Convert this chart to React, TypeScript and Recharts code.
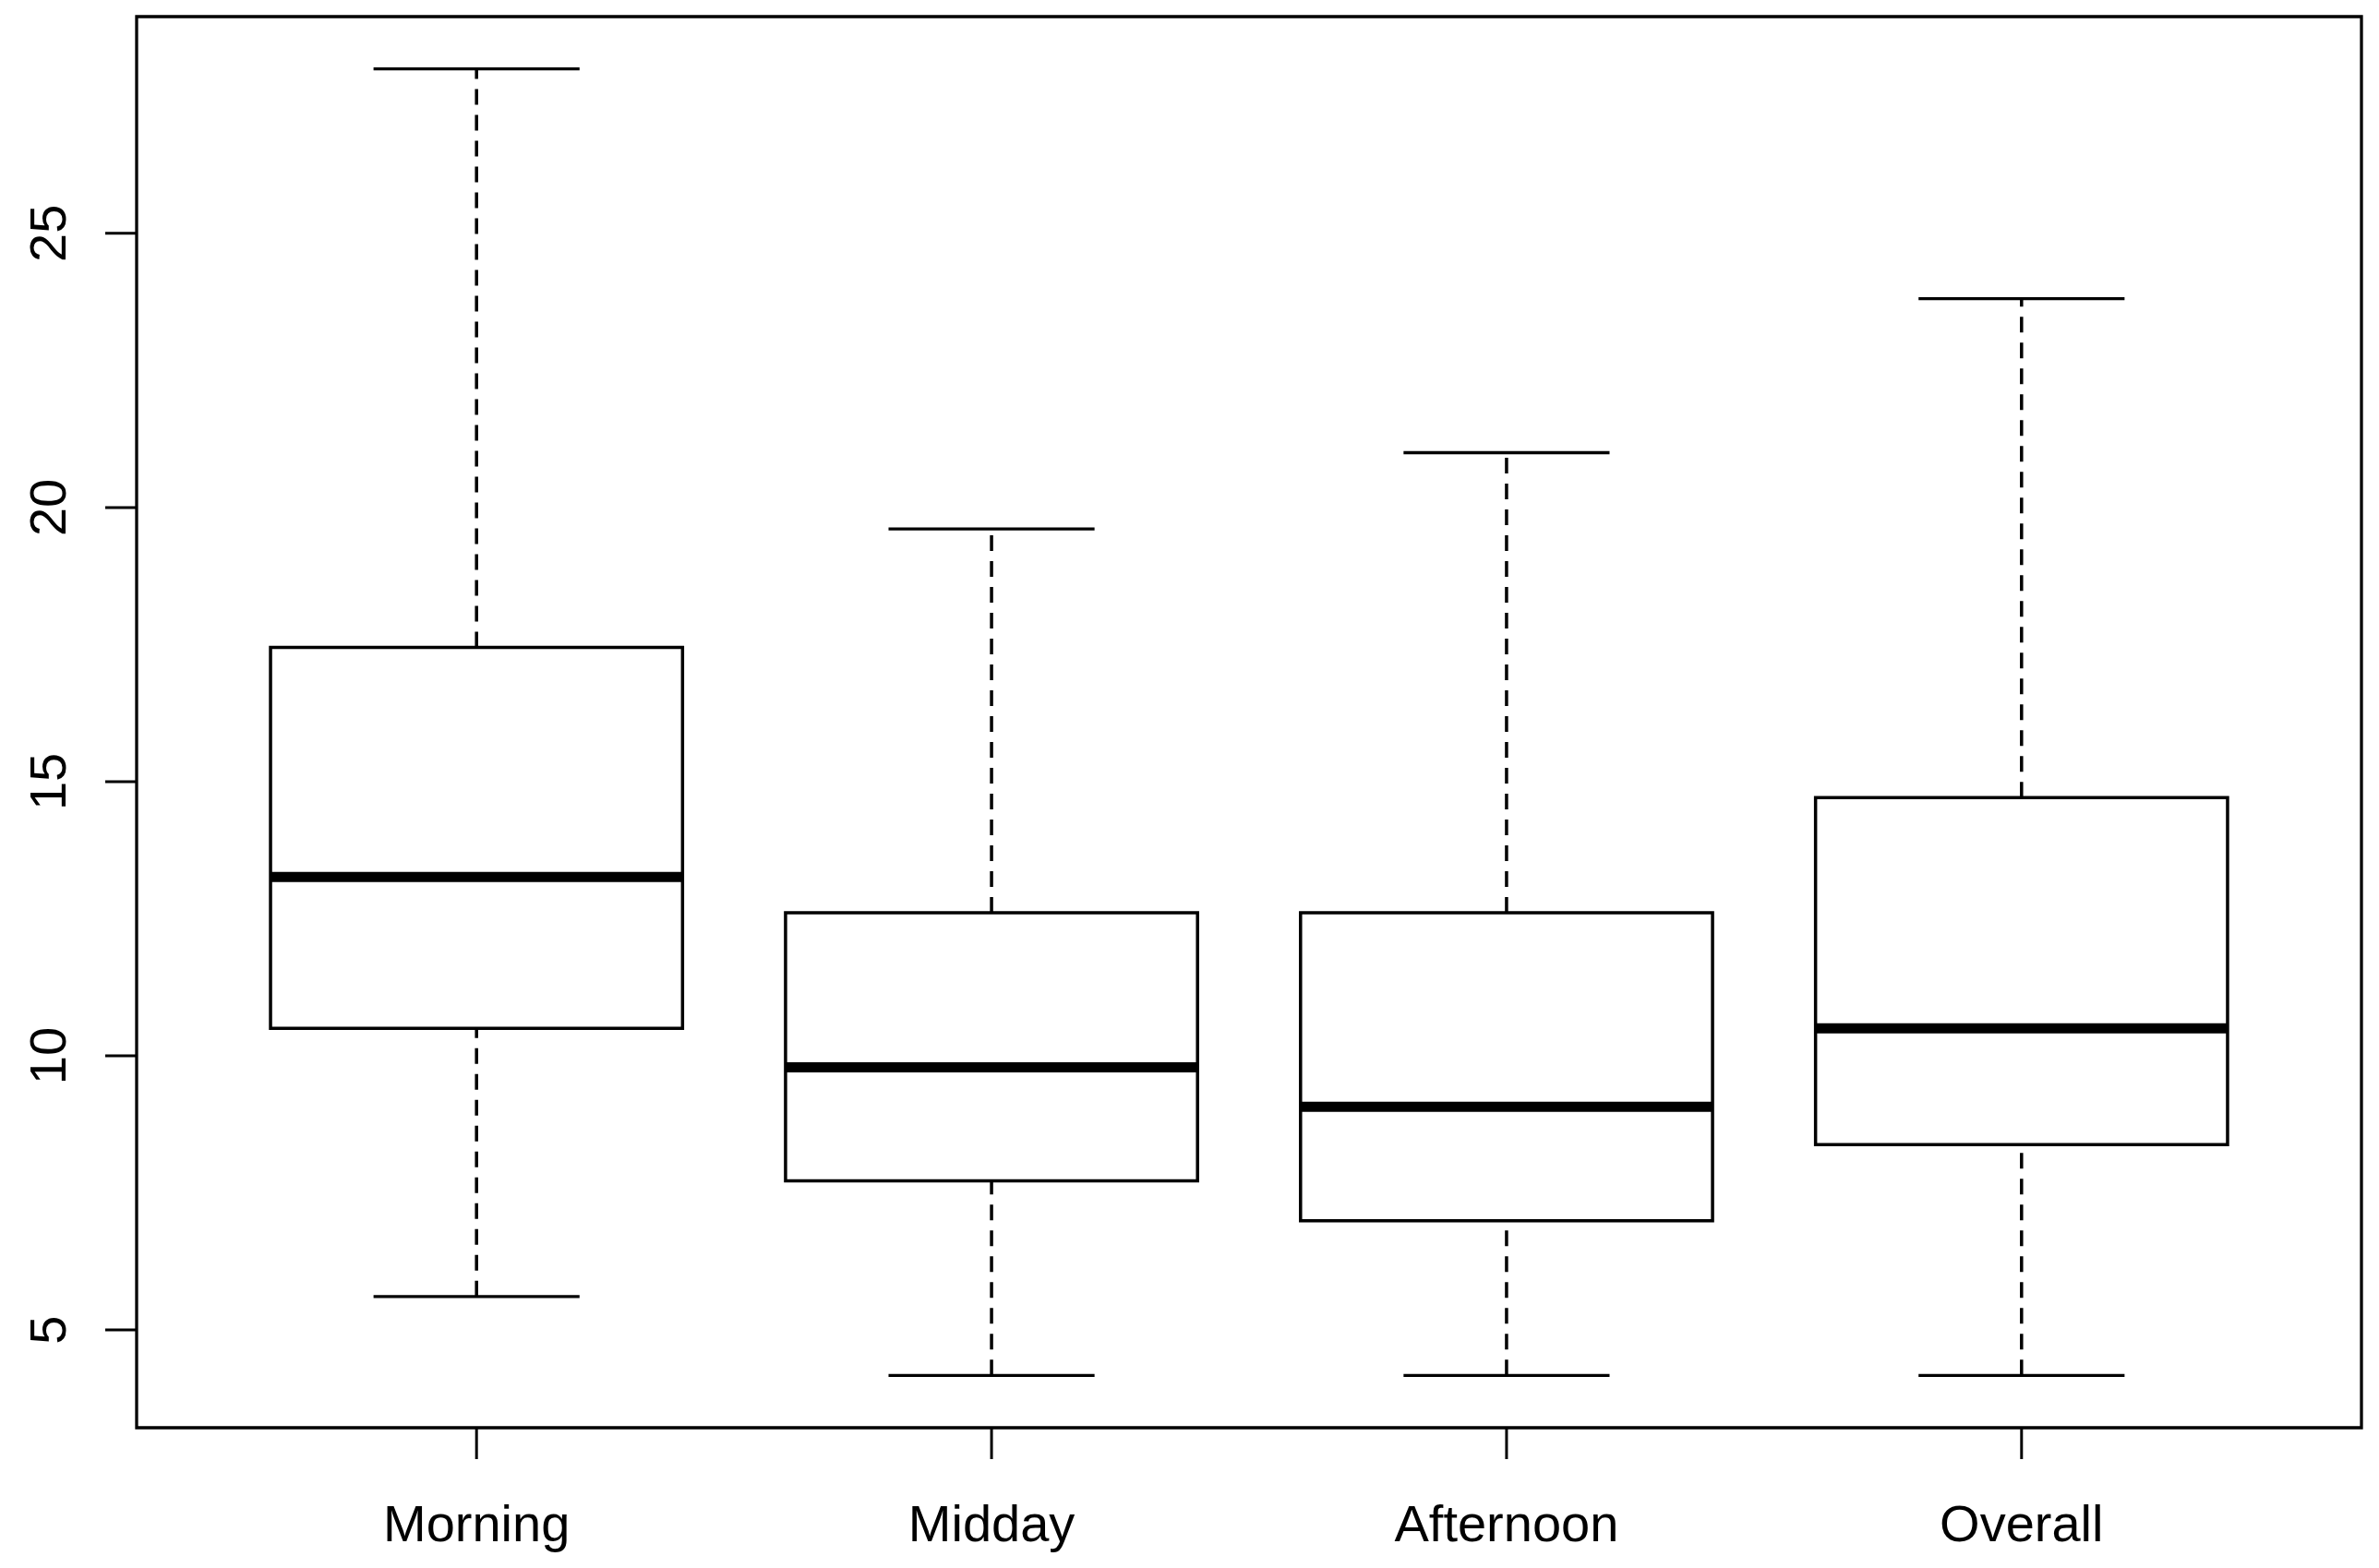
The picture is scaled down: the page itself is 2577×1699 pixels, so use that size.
import React from 'react';
import { ComposedChart, XAxis, YAxis, ReferenceArea, ReferenceLine } from 'recharts';

const categories = ['Morning', 'Midday', 'Afternoon', 'Overall'];
const lowerWhisker = [5.61, 4.17, 4.17, 4.17];
const lowerQuartile = [10.5, 7.72, 6.99, 8.38];
const medians = [13.26, 9.79, 9.07, 10.5];
const upperQuartile = [17.45, 12.61, 12.61, 14.71];
const upperWhisker = [28.0, 19.61, 21.0, 23.81];
const yTicks = [5, 10, 15, 20, 25];

const BOX_HALF = 0.4;
const CAP_HALF = 0.2;
const FONT = '"Liberation Sans", Arial, sans-serif';

const rows = categories.map((name, i) => ({
  pos: i + 1,
  name,
  min: lowerWhisker[i],
  q1: lowerQuartile[i],
  median: medians[i],
  q3: upperQuartile[i],
  max: upperWhisker[i],
}));

// R-style axis ranges: 4% padding on each side
const yLo = Math.min(...lowerWhisker);
const yHi = Math.max(...upperWhisker);
const yPad = (yHi - yLo) * 0.04;
const yDomain = [yLo - yPad, yHi + yPad];
const xPad = categories.length * 0.04;
const xDomain = [0.5 - xPad, categories.length + 0.5 + xPad];

const YTick = ({ x, y, payload }: any) => (
  <text
    x={x}
    y={y}
    transform={`rotate(-90 ${x} ${y})`}
    textAnchor="middle"
    fontFamily={FONT}
    fontSize={56}
    fill="#000"
  >
    {payload.value}
  </text>
);

const XTick = ({ x, y, payload }: any) => (
  <text x={x} y={y} textAnchor="middle" fontFamily={FONT} fontSize={56} fill="#000">
    {categories[payload.value - 1]}
  </text>
);

export default function App() {
  return (
    <div style={{ position: 'absolute', left: 0, top: 0, width: 2577, height: 1699, background: '#fff' }}>
      <ComposedChart width={2577} height={1699} data={rows} margin={{ top: 18, right: 19, bottom: 0, left: 0 }}>
        <XAxis
          type="number"
          dataKey="pos"
          domain={xDomain}
          ticks={[1, 2, 3, 4]}
          allowDataOverflow
          height={152}
          axisLine={false}
          tickLine={{ stroke: '#000', strokeWidth: 3 }}
          tickSize={34}
          tickMargin={89}
          tick={<XTick />}
          interval={0}
        />
        <YAxis
          type="number"
          domain={yDomain}
          ticks={yTicks}
          allowDataOverflow
          width={148}
          axisLine={false}
          tickLine={{ stroke: '#000', strokeWidth: 3 }}
          tickSize={34}
          tickMargin={43}
          tick={<YTick />}
          interval={0}
        />
        {/* plot frame */}
        <ReferenceArea
          x1={xDomain[0]}
          x2={xDomain[1]}
          y1={yDomain[0]}
          y2={yDomain[1]}
          ifOverflow="visible"
          fill="none"
          fillOpacity={0}
          stroke="#000"
          strokeWidth={3.3}
        />
        {rows.map((r) => (
          <React.Fragment key={r.name}>
            <ReferenceLine
              segment={[{ x: r.pos, y: r.q3 }, { x: r.pos, y: r.max }]}
              stroke="#000"
              strokeWidth={3.5}
              strokeDasharray="17 11"
            />
            <ReferenceLine
              segment={[{ x: r.pos, y: r.min }, { x: r.pos, y: r.q1 }]}
              stroke="#000"
              strokeWidth={3.5}
              strokeDasharray="17 11"
            />
            <ReferenceLine
              segment={[{ x: r.pos - CAP_HALF, y: r.max }, { x: r.pos + CAP_HALF, y: r.max }]}
              stroke="#000"
              strokeWidth={3.3}
            />
            <ReferenceLine
              segment={[{ x: r.pos - CAP_HALF, y: r.min }, { x: r.pos + CAP_HALF, y: r.min }]}
              stroke="#000"
              strokeWidth={3.3}
            />
            <ReferenceArea
              x1={r.pos - BOX_HALF}
              x2={r.pos + BOX_HALF}
              y1={r.q1}
              y2={r.q3}
              fill="#fff"
              fillOpacity={1}
              stroke="#000"
              strokeWidth={3.5}
            />
            <ReferenceLine
              segment={[{ x: r.pos - BOX_HALF, y: r.median }, { x: r.pos + BOX_HALF, y: r.median }]}
              stroke="#000"
              strokeWidth={11}
            />
          </React.Fragment>
        ))}
      </ComposedChart>
    </div>
  );
}
